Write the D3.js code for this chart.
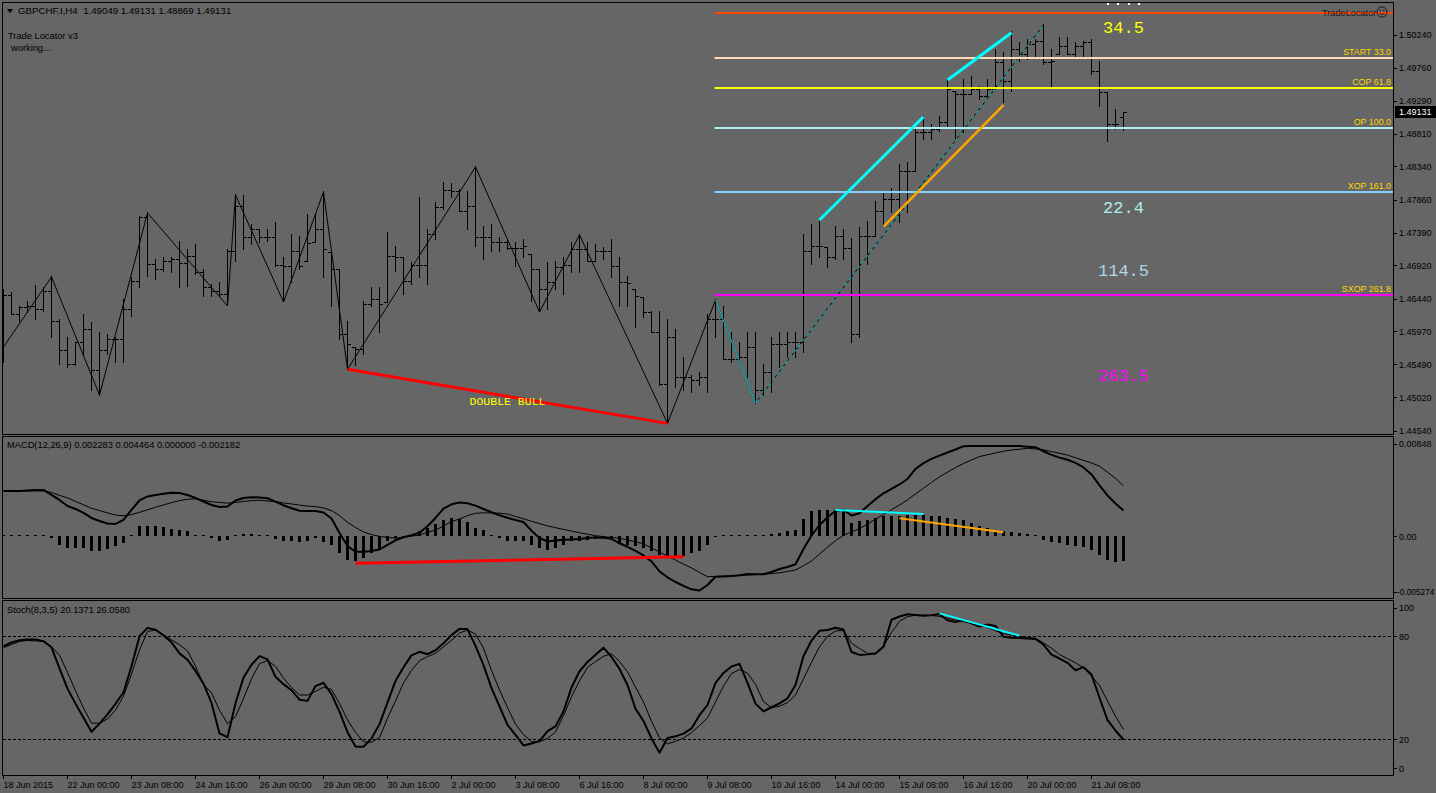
<!DOCTYPE html>
<html><head><meta charset="utf-8">
<script src="https://cdn.jsdelivr.net/npm/d3@7"></script>
<style>
html,body{margin:0;padding:0;background:#666666;overflow:hidden;}
svg{display:block;}
</style></head><body>
<svg id="chart" width="1436" height="793"></svg>
<script>
// ---------------- DATA ----------------
const symbolHeader = "GBPCHF.I,H4  1.49049 1.49131 1.48869 1.49131";
const openP = [1.45749,1.46484,1.46224,1.46311,1.46325,1.46282,1.46541,1.46109,1.45692,1.45504,
1.45807,1.46008,1.45404,1.45692,1.45850,1.45864,1.46282,1.46685,1.47607,1.46930,
1.46858,1.46973,1.47002,1.46944,1.47045,1.46815,1.46599,1.46541,1.46498,1.47117,
1.47765,1.47319,1.47434,1.47319,1.47319,1.46916,1.46901,1.47117,1.46973,1.47247,
1.47434,1.47103,1.46858,1.45922,1.45749,1.45706,1.46354,1.46426,1.46383,1.47045,
1.47031,1.46685,1.46916,1.46916,1.47362,1.47751,1.47996,1.47981,1.47693,1.47765,
1.47319,1.47319,1.47247,1.47247,1.47160,1.47160,1.47074,1.46858,1.46570,1.46671,
1.46887,1.46916,1.47146,1.47146,1.46973,1.47117,1.47117,1.46901,1.46671,1.46570,
1.46455,1.46239,1.45951,1.45216,1.45893,1.45303,1.45303,1.45274,1.45317,1.46138,
1.46138,1.45562,1.45562,1.45591,1.45749,1.45130,1.45389,1.45778,1.45778,1.45807,
1.45807,1.47117,1.47189,1.47175,1.47031,1.47333,1.47160,1.45922,1.47333,1.47333,
1.47693,1.47866,1.47866,1.48269,1.48269,1.48831,1.48831,1.48874,1.48975,1.49421,
1.49378,1.49378,1.49450,1.49349,1.49450,1.49839,1.49565,1.50026,1.49954,1.50098,
1.50141,1.49839,1.49954,1.50069,1.49954,1.50069,1.50127,1.49709,1.49407,1.48946,
1.49049];
const highP = [1.46570,1.46527,1.46325,1.46397,1.46628,1.46599,1.46757,1.46138,1.45879,1.45821,
1.46210,1.46095,1.45951,1.45922,1.45893,1.46426,1.46743,1.47621,1.47679,1.47002,
1.47031,1.47031,1.47261,1.47146,1.47218,1.46858,1.46642,1.46671,1.47146,1.47938,
1.47924,1.47506,1.47434,1.47434,1.47535,1.47031,1.47362,1.47333,1.47650,1.47650,
1.47981,1.47103,1.46858,1.46109,1.45749,1.46397,1.46599,1.46599,1.47391,1.47189,
1.47031,1.46959,1.47895,1.47434,1.47823,1.48111,1.48096,1.48010,1.47981,1.48341,
1.47477,1.47506,1.47319,1.47290,1.47247,1.47290,1.47074,1.46858,1.46959,1.46973,
1.47031,1.47247,1.47362,1.47247,1.47218,1.47175,1.47290,1.47031,1.46757,1.46570,
1.46455,1.46253,1.46253,1.46138,1.45994,1.45605,1.45346,1.45389,1.46210,1.46426,
1.46325,1.45951,1.45821,1.45951,1.45951,1.45490,1.45893,1.45965,1.45965,1.45965,
1.47362,1.47506,1.47549,1.47175,1.47477,1.47434,1.47304,1.47463,1.47549,1.47837,
1.47981,1.48024,1.48370,1.48399,1.48903,1.49061,1.48946,1.49061,1.49594,1.49421,
1.49594,1.49637,1.49493,1.49594,1.50026,1.49983,1.50285,1.50127,1.50170,1.50170,
1.50386,1.50026,1.50199,1.50199,1.50127,1.50141,1.50170,1.49853,1.49407,1.49162,
1.49131];
const lowP = [1.45533,1.46210,1.46109,1.46239,1.46152,1.46253,1.45879,1.45490,1.45447,1.45476,
1.45634,1.45130,1.45058,1.45634,1.45519,1.45519,1.46181,1.46599,1.46757,1.46714,
1.46829,1.46815,1.46599,1.46613,1.46786,1.46469,1.46469,1.46469,1.46340,1.46973,
1.47146,1.47218,1.47247,1.47261,1.46901,1.46397,1.46671,1.46858,1.46973,1.47247,
1.46743,1.46325,1.45850,1.45428,1.45476,1.45634,1.46325,1.45951,1.46383,1.46829,
1.46498,1.46642,1.46743,1.46642,1.47290,1.47722,1.47895,1.47693,1.47434,1.47189,
1.47002,1.47117,1.47117,1.47146,1.46901,1.47031,1.46397,1.46253,1.46282,1.46570,
1.46498,1.46815,1.46815,1.46973,1.46973,1.47002,1.46743,1.46325,1.46325,1.46023,
1.46167,1.45951,1.45202,1.44650,1.45173,1.45130,1.45087,1.45202,1.45087,1.45879,
1.45562,1.45519,1.45519,1.45317,1.44943,1.45058,1.45087,1.45447,1.45605,1.45591,
1.45677,1.46930,1.47031,1.46887,1.47002,1.47002,1.45821,1.45879,1.46930,1.47333,
1.47477,1.47679,1.47535,1.47679,1.48269,1.48730,1.48730,1.48845,1.48903,1.48730,
1.48831,1.49378,1.49306,1.49349,1.49450,1.49263,1.49421,1.49853,1.49882,1.49925,
1.49810,1.49493,1.49954,1.49954,1.49925,1.49911,1.49666,1.49205,1.48701,1.48874,
1.48869];
const closeP = [1.46484,1.46224,1.46311,1.46325,1.46282,1.46541,1.46109,1.45692,1.45504,1.45807,
1.46008,1.45404,1.45692,1.45850,1.45864,1.46282,1.46685,1.47607,1.46930,1.46858,
1.46973,1.47002,1.46944,1.47045,1.46815,1.46599,1.46541,1.46498,1.47117,1.47765,
1.47319,1.47434,1.47319,1.47319,1.46916,1.46901,1.47117,1.46901,1.47232,1.47434,
1.47146,1.46858,1.45922,1.45778,1.45706,1.46354,1.46426,1.46354,1.47045,1.47031,
1.46685,1.46916,1.46916,1.47362,1.47751,1.47996,1.47981,1.47693,1.47765,1.47319,
1.47319,1.47247,1.47247,1.47160,1.47160,1.47189,1.46858,1.46570,1.46671,1.46887,
1.46916,1.47146,1.47146,1.46973,1.47117,1.47117,1.46901,1.46671,1.46656,1.46469,
1.46239,1.45951,1.45216,1.45893,1.45303,1.45303,1.45274,1.45317,1.46138,1.46138,
1.45562,1.45562,1.45591,1.45749,1.45130,1.45389,1.45778,1.45778,1.45807,1.45807,
1.47117,1.47189,1.47189,1.47031,1.47333,1.47160,1.45922,1.47333,1.47333,1.47693,
1.47866,1.47866,1.48269,1.48269,1.48831,1.48831,1.48874,1.48975,1.49450,1.49378,
1.49378,1.49450,1.49349,1.49450,1.49839,1.49565,1.50026,1.49954,1.50098,1.50141,
1.49839,1.49853,1.50069,1.49954,1.50069,1.50127,1.49709,1.49407,1.48946,1.48946,
1.49131];

const macdMain = [0.004013,0.004013,0.004013,0.004057,0.004101,0.004101,0.003660,0.003219,0.002690,0.002426,
0.002073,0.001632,0.001367,0.001147,0.001103,0.001455,0.002337,0.003175,0.003528,0.003660,
0.003775,0.003863,0.003837,0.003660,0.003396,0.003087,0.002778,0.002602,0.002646,0.003175,
0.003396,0.003457,0.003440,0.003369,0.003069,0.002752,0.002487,0.002276,0.002249,0.002249,
0.002117,0.001588,0.000309,-0.000838,-0.001341,-0.001341,-0.001279,-0.001147,-0.000732,-0.000335,
-0.000071,0.000106,0.000335,0.000900,0.001632,0.002452,0.002840,0.002999,0.002928,0.002717,
0.002426,0.002134,0.001870,0.001649,0.001455,0.001279,0.000512,-0.000132,-0.000441,-0.000353,
-0.000291,-0.000256,-0.000212,-0.000141,-0.000079,-0.000115,-0.000203,-0.000600,-0.000908,-0.001279,
-0.001676,-0.002205,-0.003078,-0.003599,-0.004013,-0.004348,-0.004657,-0.004763,-0.004278,-0.003546,
-0.003519,-0.003484,-0.003422,-0.003308,-0.003325,-0.003334,-0.003131,-0.002867,-0.002690,-0.002452,
-0.001103,0.000088,0.001014,0.001702,0.002249,0.002355,0.001852,0.002055,0.002690,0.003290,
0.003810,0.004190,0.004586,0.005072,0.005954,0.006465,0.006836,0.007127,0.007400,0.007665,
0.007964,0.007982,0.007982,0.007982,0.007982,0.007982,0.007982,0.007973,0.007920,0.007876,
0.007515,0.007197,0.006950,0.006765,0.006492,0.006086,0.005468,0.004507,0.003616,0.002902,
0.002283];
const macdSignal = [0.004013,0.004013,0.004013,0.004013,0.004013,0.004013,0.003881,0.003625,0.003405,0.003087,
0.002796,0.002487,0.002284,0.002082,0.001887,0.001826,0.001932,0.002126,0.002355,0.002575,
0.002778,0.002990,0.003158,0.003290,0.003325,0.003193,0.003069,0.003008,0.002937,0.002999,
0.003087,0.003166,0.003193,0.003131,0.003069,0.002955,0.002867,0.002769,0.002681,0.002628,
0.002514,0.002284,0.001843,0.001252,0.000794,0.000397,0.000168,0.000009,-0.000079,-0.000150,
-0.000062,0.000026,0.000141,0.000370,0.000564,0.000935,0.001323,0.001544,0.001835,0.002046,
0.002090,0.002073,0.002055,0.001976,0.001764,0.001561,0.001341,0.001138,0.000935,0.000776,
0.000626,0.000467,0.000335,0.000203,0.000071,-0.000009,-0.000088,-0.000159,-0.000309,-0.000467,
-0.000644,-0.001005,-0.001367,-0.001720,-0.002082,-0.002443,-0.002769,-0.003175,-0.003546,-0.003519,
-0.003502,-0.003475,-0.003449,-0.003405,-0.003360,-0.003316,-0.003272,-0.003202,-0.003078,-0.002955,
-0.002575,-0.002170,-0.001552,-0.000944,-0.000370,0.000115,0.000406,0.000688,0.001094,0.001526,
0.001940,0.002355,0.002769,0.003237,0.003749,0.004260,0.004772,0.005257,0.005662,0.006077,
0.006439,0.006747,0.007047,0.007206,0.007365,0.007515,0.007620,0.007691,0.007770,0.007718,
0.007629,0.007488,0.007338,0.007179,0.006941,0.006712,0.006483,0.006200,0.005662,0.005133,
0.004464];
const macdHist = [0.00004,0.00004,0.00004,0.00004,0.00004,0.00004,-0.00009,-0.000732,-0.001032,-0.001032,
-0.001032,-0.001323,-0.001323,-0.001120,-0.000882,-0.000591,0.000044,0.000882,0.000882,0.000882,
0.000794,0.000679,0.000591,0.000441,0.000150,0.000026,-0.000150,-0.000441,-0.000291,0.000150,
0.000203,0.000203,0.000150,0.000062,-0.000238,-0.000441,-0.000441,-0.000529,-0.000441,-0.000150,
-0.000529,-0.000732,-0.001473,-0.002055,-0.002205,-0.001914,-0.001473,-0.001173,-0.000441,-0.000150,
-0.000062,0.000062,0.000441,0.000732,0.001120,0.001473,0.001614,0.001526,0.001235,0.000732,
0.000591,0.000150,-0.000150,-0.000441,-0.000441,-0.000441,-0.000732,-0.001032,-0.001173,-0.001032,
-0.000732,-0.000441,-0.000441,-0.000291,-0.000238,-0.000062,-0.000150,-0.000591,-0.000732,-0.000882,
-0.001032,-0.001323,-0.001614,-0.001764,-0.001826,-0.001702,-0.001473,-0.001323,-0.000732,-0.000044,
0.000026,0.000026,0.000044,0.000150,0.000062,0.000062,0.000238,0.000291,0.000441,0.000591,
0.001526,0.002205,0.002355,0.002355,0.002355,0.002408,0.001173,0.001323,0.001473,0.001614,
0.001764,0.001826,0.001826,0.001914,0.001914,0.001914,0.001826,0.001764,0.001614,0.001526,
0.001473,0.001173,0.000882,0.000732,0.000591,0.000441,0.000379,0.000291,0.000203,0.000088,
-0.000291,-0.000529,-0.000591,-0.000732,-0.000820,-0.000944,-0.001173,-0.001614,-0.002117,-0.002267,
-0.002182];
const stochK = [74.5,76.6,77.9,78.4,78.3,77.4,73.8,61.6,49.8,41.1,
32.9,24.8,29.5,34.9,41.0,47.7,62.8,80.2,85.1,84.0,
80.7,76.7,70.3,66.6,60.1,52.7,41.5,23.8,21.6,41.3,
56.3,63.7,68.7,66.8,56.7,52.4,48.9,43.4,42.7,51.3,
53.2,46.6,36.5,24.5,16.2,16.1,20.8,29.2,41.7,54.3,
62.2,69.1,71.2,69.8,72.1,76.2,80.9,84.5,84.4,74.6,
63.5,50.1,39.5,28.8,23.0,16.8,17.9,19.3,25.1,27.9,
36.5,50.5,59.9,65.3,69.5,73.6,68.2,61.3,51.9,38.1,
31.0,20.9,12.6,21.1,22.1,23.7,26.7,34.4,40.3,53.1,
58.9,62.7,64.2,53.1,41.1,36.6,39.0,41.3,44.2,51.9,
68.8,77.7,83.4,83.9,85.2,84.1,71.1,69.4,69.7,70.2,
74.2,89.8,91.7,93.0,92.6,92.2,92.4,93.2,89.5,88.5,
89.6,87.7,85.8,87.1,86.2,79.9,79.4,79.2,78.9,78.6,
75.4,69.5,67.3,64.8,60.5,62.3,58.0,44.5,31.5,25.5,
20.1371];
const stochD = [73.6,75.4,77.2,77.8,77.5,77.2,74.1,69.2,59.2,48.6,
38.5,29.8,29.7,32.2,37.3,45.4,58.2,72.3,83.0,83.9,
81.2,78.1,75.3,71.7,62.9,52.2,47.4,37.2,29.5,33.5,
44.1,55.5,64.3,66.1,62.8,55.9,50.5,46.1,46.1,48.2,
50.6,49.3,41.3,31.6,24.4,18.9,18.7,21.4,32.6,42.7,
53.1,60.4,66.0,68.4,70.3,74.1,77.8,82.1,83.8,81.5,
73.3,60.4,49.0,38.8,29.2,23.1,19.0,19.0,20.9,24.7,
34.1,45.1,54.3,62.2,65.5,68.6,70.1,65.6,59.6,50.8,
42.0,30.9,21.2,17.7,19.2,21.1,24.2,28.4,32.8,42.1,
51.3,58.6,60.9,58.8,52.3,42.3,38.7,39.6,41.7,46.1,
55.5,65.1,74.1,80.2,83.3,83.6,76.2,73.1,70.3,70.3,
74.4,82.4,88.9,91.6,92.5,92.5,92.3,91.8,90.8,89.7,
88.7,87.8,86.8,85.3,83.4,81.7,80.9,80.2,79.5,79.1,
76.4,73.3,69.6,67.2,64.8,61.9,57.2,51.6,42.6,33.8,
26.058];

const zigzagIdx   = [0,6,12,18,28,29,35,40,43,59,67,72,83,89,94,130];
const zigzagPrice = [1.45749,1.46757,1.45058,1.47679,1.46340,1.47938,1.46397,1.47981,1.45428,1.48341,1.46253,1.47362,1.44650,1.46426,1.44943,1.50386];

const priceTicks = [1.50240,1.49760,1.49290,1.48810,1.48340,1.47860,1.47390,1.46920,1.46440,1.45970,1.45490,1.45020,1.44540];
const timeTickIdx = [0,8,16,24,32,40,48,56,64,72,80,88,96,104,112,120,128,136];
const timeTickLabels = ["18 Jun 2015","22 Jun 00:00","23 Jun 08:00","24 Jun 16:00","26 Jun 00:00","29 Jun 08:00","30 Jun 16:00","2 Jul 00:00","3 Jul 08:00","6 Jul 16:00","8 Jul 00:00","9 Jul 08:00","10 Jul 16:00","14 Jul 00:00","15 Jul 08:00","16 Jul 16:00","20 Jul 00:00","21 Jul 08:00"];
const macdTicks = [0.00848, 0.0, -0.005274];
const macdTickLabels = ["0.00848","0.00","-0.005274"];
const stochTicks = [100,80,20,0];
const stochLevels = [80,20];

const levelNames  = ["","START 33.0","COP 61.8","OP 100.0","XOP 161.0","SXOP 261.8"];
const levelPrices = [1.50561,1.49913,1.49481,1.48906,1.47984,1.46502];
const levelColors = ["#FF4500","#FFDAB9","#FFFF00","#AFEEEE","#87CEFA","#FF00FF"];
const levelStartIdx = 89;

const bigLabels  = ["34.5","22.4","114.5","263.5"];
const bigPrices  = [1.50355,1.47764,1.46857,1.45346];
const bigColors  = ["#FFFF00","#AFEEEE","#ADD8E6","#FF00FF"];
const bigIdx = 140;

// trend-line objects [idx1, val1, idx2, val2]
const mainTrendRed    = [43,1.45428,83,1.44650];
const mainTrendCyan1  = [102,1.47577,115,1.49064];
const mainTrendCyan2  = [118,1.49592,126,1.50273];
const mainTrendOrange = [110,1.47481,125,1.49232];
const macdTrendRed    = [44,-0.002364,85,-0.001782];
const macdTrendCyan   = [104,0.002337,115,0.001985];
const macdTrendOrange = [112,0.001605,125,0.000370];
const stochTrendCyan  = [117,93.5,127,80.6];
const patternText = "DOUBLE BULL", patternIdx = 63, patternPrice = 1.44972;
const lastPrice = 1.49131;
const clippedDotOffsets = [-16, -5.5, 5, 15.5]; // remnants of a label cut by the top edge

// ---------------- DRAW ----------------
const FONT = '"Liberation Sans", Arial, sans-serif';
const MONO = '"Liberation Mono", "DejaVu Sans Mono", monospace';
const svg = d3.select("#chart");
svg.append("rect").attr("width",1436).attr("height",793).attr("fill","#666666");

const PL = 2.5, PR = 1393.5;
const P = {main:[2.5,434.5], macd:[436.5,598.5], stoch:[600.5,775.5]};

const x  = d3.scaleLinear().domain([0,140]).range([3.5, 3.5+8*140]);
const yP = d3.scaleLinear().domain([1.44540,1.50240]).range([431,35]);
const yM = d3.scaleLinear().domain([-0.005274,0.00848]).range([596.3,440.3]);
const yS = d3.scaleLinear().domain([0,100]).range([774.4,602.2]);
const sn = v => Math.floor(v) + 0.5;

const defs = svg.append("defs");
Object.entries(P).forEach(([k,[t,b]])=>{
  defs.append("clipPath").attr("id","clip-"+k).append("rect")
    .attr("x",PL+0.5).attr("y",t+0.5).attr("width",PR-PL-1).attr("height",b-t-1);
});

// panel borders
Object.values(P).forEach(([t,b])=>{
  svg.append("rect").attr("x",PL).attr("y",t).attr("width",PR-PL).attr("height",b-t)
    .attr("fill","none").attr("stroke","#000").attr("stroke-width",1);
});

// ---- MAIN PANEL ----
const gMain = svg.append("g").attr("clip-path","url(#clip-main)");
const gBars = gMain.append("g").attr("stroke","#000").attr("stroke-width",1).attr("shape-rendering","crispEdges");
openP.forEach((o,i)=>{
  const xi = x(i);
  gBars.append("line").attr("x1",xi).attr("x2",xi).attr("y1",Math.floor(yP(highP[i]))).attr("y2",Math.floor(yP(lowP[i]))+1);
  gBars.append("line").attr("x1",xi-3.5).attr("x2",xi).attr("y1",sn(yP(o))).attr("y2",sn(yP(o)));
  gBars.append("line").attr("x1",xi).attr("x2",xi+3.5).attr("y1",sn(yP(closeP[i]))).attr("y2",sn(yP(closeP[i])));
});

// zigzag
const zz = zigzagIdx.map((d,k)=>[x(d), yP(zigzagPrice[k])]);
gMain.append("path").attr("d", d3.line()(zz)).attr("fill","none").attr("stroke","#000").attr("stroke-width",1);
const n = zigzagIdx.length;
gMain.append("path").attr("d", d3.line()(zz.slice(n-3,n-1))).attr("fill","none").attr("stroke","#00CED1").attr("stroke-width",1);
gMain.append("path").attr("d", d3.line()(zz.slice(n-2,n))).attr("fill","none").attr("stroke","#00CED1").attr("stroke-width",1).attr("stroke-dasharray","4,3");

// level lines
levelPrices.forEach((p,k)=>{
  const yy = Math.round(yP(p));
  gMain.append("line").attr("x1",x(levelStartIdx)-1).attr("x2",PR).attr("y1",yy).attr("y2",yy)
    .attr("stroke",levelColors[k]).attr("stroke-width",2);
  if(levelNames[k]) gMain.append("text").attr("x",PR-2.5).attr("y",yy-3).attr("text-anchor","end")
    .attr("font-family",FONT).attr("font-size","8.9px").attr("fill","#FFD700").text(levelNames[k]);
});

function trend(g, ys, t, color, w){
  g.append("line").attr("x1",x(t[0])).attr("y1",ys(t[1])).attr("x2",x(t[2])).attr("y2",ys(t[3]))
    .attr("stroke",color).attr("stroke-width",w).attr("stroke-linecap","butt");
}
trend(gMain,yP,mainTrendRed,"#FF0000",3);
trend(gMain,yP,mainTrendCyan1,"#00FFFF",3);
trend(gMain,yP,mainTrendCyan2,"#00FFFF",3);
trend(gMain,yP,mainTrendOrange,"#FFA500",2.5);

// big numbers
bigLabels.forEach((t,k)=>{
  gMain.append("text").attr("x",x(bigIdx)).attr("y",yP(bigPrices[k])).attr("dy","0.36em")
    .attr("text-anchor","middle").attr("font-family",MONO).attr("font-size","17px")
    .attr("fill",bigColors[k]).text(t);
});
clippedDotOffsets.forEach(o=>{
  gMain.append("rect").attr("x",Math.round(x(bigIdx)+o)-1).attr("y",3).attr("width",2).attr("height",2).attr("fill","#FFFFFF");
});
gMain.append("text").attr("x",x(patternIdx)).attr("y",yP(patternPrice)).attr("dy","0.36em")
  .attr("text-anchor","middle").attr("font-family",MONO).attr("font-size","11.5px")
  .attr("fill","#FFFF00").text(patternText);

// TradeLocator tag
gMain.append("text").attr("x",1322).attr("y",15.5).attr("font-family",FONT).attr("font-size","9.2px")
  .attr("fill","#1a1a1a").text("TradeLocator");
const sm = gMain.append("g").attr("transform","translate(1382,12)");
sm.append("circle").attr("r",5).attr("fill","none").attr("stroke","#1a1a1a").attr("stroke-width",1);
sm.append("circle").attr("cx",-1.8).attr("cy",-1.5).attr("r",0.8).attr("fill","#1a1a1a");
sm.append("circle").attr("cx",1.8).attr("cy",-1.5).attr("r",0.8).attr("fill","#1a1a1a");
sm.append("path").attr("d","M-2.5,1.2 Q0,3.8 2.5,1.2").attr("fill","none").attr("stroke","#1a1a1a").attr("stroke-width",0.9);

// header texts
svg.append("path").attr("d","M7,9 L13,9 L10,13 Z").attr("fill","#000");
svg.append("text").attr("x",18).attr("y",14).attr("font-family",FONT).attr("font-size","9.7px").attr("fill","#000")
  .style("white-space","pre").text(symbolHeader);
svg.append("text").attr("x",8).attr("y",39).attr("font-family",FONT).attr("font-size","9.3px").attr("fill","#000").text("Trade Locator v3");
svg.append("text").attr("x",11).attr("y",51).attr("font-family",FONT).attr("font-size","9.3px").attr("fill","#000").text("working...");

// price axis
const gAx = svg.append("g").attr("font-family",FONT).attr("font-size","9px").attr("fill","#000");
priceTicks.forEach(p=>{
  const yy = sn(yP(p));
  svg.append("line").attr("x1",PR).attr("x2",PR+3.5).attr("y1",yy).attr("y2",yy).attr("stroke","#000").attr("shape-rendering","crispEdges");
  gAx.append("text").attr("x",1399).attr("y",yP(p)).attr("dy","0.35em").text(p.toFixed(5));
});
svg.append("rect").attr("x",1395).attr("y",Math.round(yP(lastPrice))-6).attr("width",41).attr("height",12).attr("fill","#000");
svg.append("text").attr("x",1399).attr("y",yP(lastPrice)).attr("dy","0.35em").attr("font-family",FONT).attr("font-size","9px")
  .attr("fill","#FFFFFF").text(lastPrice.toFixed(5));

// ---- MACD PANEL ----
const gMacd = svg.append("g").attr("clip-path","url(#clip-macd)");
const gH = gMacd.append("g").attr("fill","#000").attr("shape-rendering","crispEdges");
macdHist.forEach((v,i)=>{
  const y0 = Math.round(yM(0)), y1 = Math.round(yM(v));
  let top = Math.min(y0,y1), h = Math.abs(y1-y0);
  if(h<1){h=1; top = y0-1;}
  gH.append("rect").attr("x",x(i)-1.5).attr("y",top).attr("width",3).attr("height",h);
});
const lineIdx = d3.line().x((d,i)=>x(i));
gMacd.append("path").attr("d", lineIdx.y(d=>yM(d))(macdSignal)).attr("fill","none").attr("stroke","#000").attr("stroke-width",1);
gMacd.append("path").attr("d", lineIdx.y(d=>yM(d))(macdMain)).attr("fill","none").attr("stroke","#000").attr("stroke-width",2).attr("stroke-linejoin","round");
trend(gMacd,yM,macdTrendRed,"#FF0000",3);
trend(gMacd,yM,macdTrendCyan,"#00FFFF",2);
trend(gMacd,yM,macdTrendOrange,"#FFA500",2);
svg.append("text").attr("x",7).attr("y",448).attr("font-family",FONT).attr("font-size","9.3px").attr("fill","#000")
  .text("MACD(12,26,9) " + macdMain[140].toFixed(6) + " " + macdSignal[140].toFixed(6) + " 0.000000 " + macdHist[140].toFixed(6));
const macdOff = [4,0,-4];
macdTicks.forEach((v,k)=>{
  const yy = yM(v)+macdOff[k];
  svg.append("line").attr("x1",PR).attr("x2",PR+3.5).attr("y1",sn(yy)).attr("y2",sn(yy)).attr("stroke","#000").attr("shape-rendering","crispEdges");
  const lbl = gAx.append("text").attr("x",k===2?1397:1399).attr("y",yy).attr("dy","0.35em").text(macdTickLabels[k]);
  if(k===2) lbl.attr("font-size","8.3px");
});

// ---- STOCH PANEL ----
const gSt = svg.append("g").attr("clip-path","url(#clip-stoch)");
stochLevels.forEach(l=>{
  gSt.append("line").attr("x1",PL).attr("x2",PR).attr("y1",sn(yS(l))).attr("y2",sn(yS(l)))
    .attr("stroke","#000").attr("stroke-width",1).attr("stroke-dasharray","3,2").attr("shape-rendering","crispEdges");
});
gSt.append("path").attr("d", lineIdx.y(d=>yS(d))(stochD)).attr("fill","none").attr("stroke","#000").attr("stroke-width",1);
gSt.append("path").attr("d", lineIdx.y(d=>yS(d))(stochK)).attr("fill","none").attr("stroke","#000").attr("stroke-width",2).attr("stroke-linejoin","round");
trend(gSt,yS,stochTrendCyan,"#00FFFF",2);
svg.append("text").attr("x",7).attr("y",613).attr("font-family",FONT).attr("font-size","9.3px").attr("fill","#000")
  .text("Stoch(8,3,5) " + stochK[140].toFixed(4) + " " + stochD[140].toFixed(4));
const stOff = [6,0,0,-6];
stochTicks.forEach((v,k)=>{
  const yy = yS(v)+stOff[k];
  svg.append("line").attr("x1",PR).attr("x2",PR+3.5).attr("y1",sn(yy)).attr("y2",sn(yy)).attr("stroke","#000").attr("shape-rendering","crispEdges");
  gAx.append("text").attr("x",1399).attr("y",yy).attr("dy","0.35em").text(String(v));
});

// ---- TIME AXIS ----
timeTickIdx.forEach((d,k)=>{
  const xi = x(d);
  svg.append("line").attr("x1",xi).attr("x2",xi).attr("y1",775.5).attr("y2",779).attr("stroke","#000").attr("shape-rendering","crispEdges");
  gAx.append("text").attr("x",xi).attr("y",788).text(timeTickLabels[k]);
});
</script>
</body></html>
